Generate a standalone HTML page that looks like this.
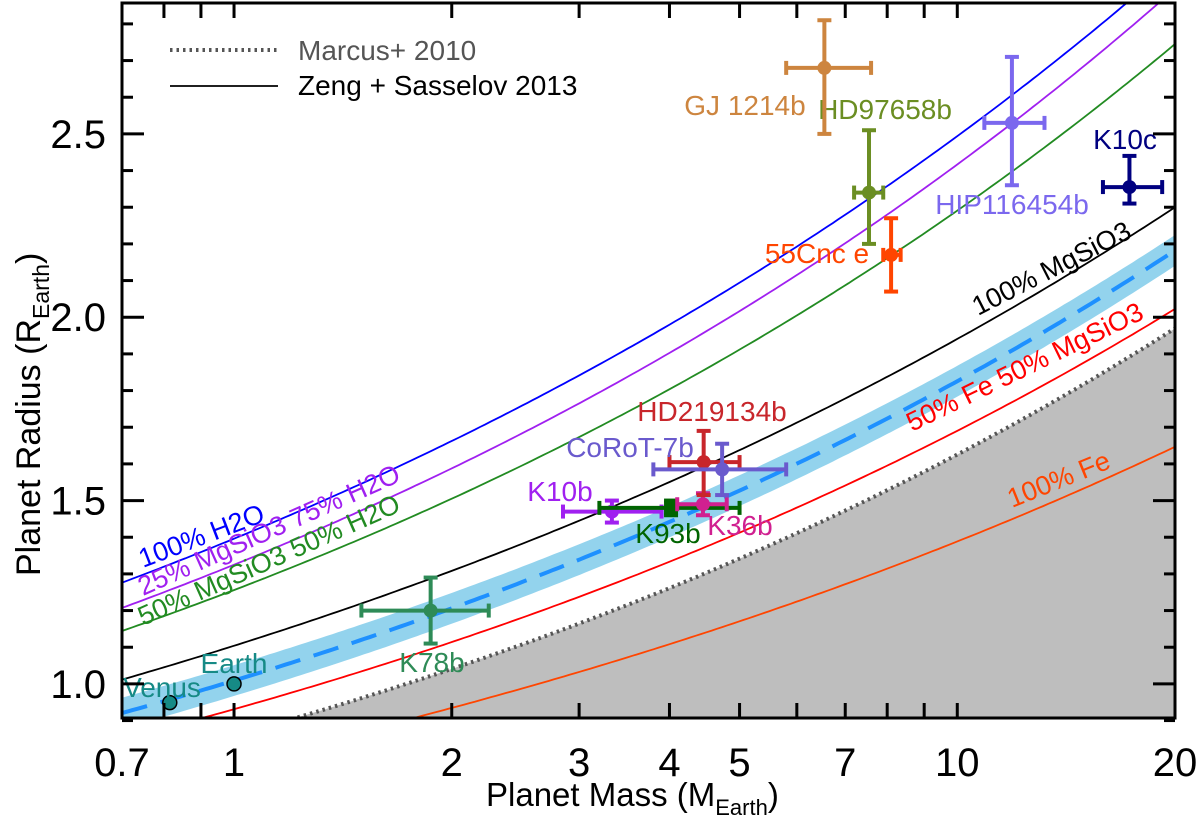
<!DOCTYPE html>
<html><head><meta charset="utf-8">
<style>
html,body{margin:0;padding:0;background:#fff;}
svg{display:block;font-family:"Liberation Sans",Arial,sans-serif;}
</style></head>
<body>
<svg id="chart" width="1200" height="819" viewBox="0 0 1200 819" xmlns="http://www.w3.org/2000/svg"></svg>
<script>
// ---- data ----
const planetNames = ["Venus","Earth","K78b","K10b","K93b","K36b","HD219134b","CoRoT-7b","55Cnc e","HD97658b","GJ 1214b","HIP116454b","K10c"];
const planetMass  = [0.815,1.0,1.87,3.33,4.02,4.45,4.46,4.73,8.1,7.55,6.55,11.9,17.3];
const massLo      = [0,0,1.50,2.85,3.20,4.10,4.00,3.80,7.90,7.20,5.80,10.9,15.9];
const massHi      = [0,0,2.25,3.90,5.00,4.80,5.00,5.80,8.35,7.90,7.60,13.2,19.2];
const planetRadius= [0.949,1.0,1.20,1.47,1.48,1.49,1.605,1.585,2.17,2.34,2.68,2.53,2.355];
const radLo       = [0,0,1.11,1.44,1.46,1.46,1.515,1.515,2.07,2.20,2.50,2.36,2.31];
const radHi       = [0,0,1.29,1.50,1.50,1.52,1.69,1.655,2.27,2.51,2.81,2.71,2.44];
const planetColors= ["#168a86","#168a86","#2e8b57","#a020f0","#006400","#d02090","#c8262b","#6a5acd","#ff4500","#6b8e23","#cd853f","#7b68ee","#000080"];
const labelX = [162,234,432,560,668,740,712,630,817,885,745,1012,1125];
const labelY = [697,673,672,501,543,535,421,457,263,119,115,214,149];
// model curves R = a * M^b
const curveNames = ["100% H2O","25% MgSiO3 75% H2O","50% MgSiO3 50% H2O","100% MgSiO3","50% Fe 50% MgSiO3","100% Fe","Marcus+ 2010"];
const curveA = [1.396,1.325,1.256,1.104,0.931,0.788,0.859];
const curveB = [0.252,0.261,0.261,0.245,0.259,0.246,0.277];
const curveColors = ["#0000ff","#a020f0","#228b22","#000000","#ff0000","#ff4500","#555555"];
const bandA = 1.009, bandB = 0.2575, bandHalf = 0.042;
const xTicks = [0.7,0.8,0.9,1,2,3,4,5,6,7,8,9,10,20];
const xLabels = [0.7,1,2,3,4,5,7,10,20];
const yTicks = [0.9,1.0,1.1,1.2,1.3,1.4,1.5,1.6,1.7,1.8,1.9,2.0,2.1,2.2,2.3,2.4,2.5,2.6,2.7,2.8];
const yLabels = ["1.0","1.5","2.0","2.5"];

// ---- axes ----
const L=122,R=1175,T=3,B=718, M0=0.7, M1=20, R0=0.907, R1=2.857;
const X = m => L + (Math.log10(m)-Math.log10(M0))/(Math.log10(M1)-Math.log10(M0))*(R-L);
const Y = r => B - (r-R0)/(R1-R0)*(B-T);
const NS="http://www.w3.org/2000/svg";
const svg=document.getElementById('chart');
function mk(tag,attrs,parent){const e=document.createElementNS(NS,tag);for(const k in attrs)e.setAttribute(k,attrs[k]);(parent||svg).appendChild(e);return e;}
const defs=mk('defs',{});
const cp=mk('clipPath',{id:'clip'},defs);mk('rect',{x:L,y:T,width:R-L,height:B-T},cp);
const plot=mk('g',{'clip-path':'url(#clip)'});



function curvePts(a,b,off){const p=[];for(let i=0;i<=200;i++){const m=M0*Math.pow(M1/M0,i/200);p.push([X(m),Y(a*Math.pow(m,b)+(off||0))]);}return p;}
const path = pts => pts.map((p,i)=>(i?'L':'M')+p[0].toFixed(1)+' '+p[1].toFixed(1)).join(' ');

const mp=curvePts(curveA[6],curveB[6]);
const fill=mk('path',{d:path(mp)+` L ${R} ${B+10} L ${L} ${B+10} Z`,fill:'#bebebe'},plot);


const up=curvePts(bandA,bandB,bandHalf), dn=curvePts(bandA,bandB,-bandHalf).reverse();
const band=mk('path',{d:path(up)+' '+path(dn).replace('M','L')+' Z',fill:'#87ceeb',opacity:0.9},plot);


const bl=mk('path',{d:path(curvePts(bandA,bandB)),fill:'none',stroke:'#1e90ff','stroke-width':4,'stroke-dasharray':'26 14'},plot);


for(let i=0;i<curveNames.length;i++){
  const isM=i===6;
  const c=mk('path',{d:path(curvePts(curveA[i],curveB[i])),fill:'none',stroke:curveColors[i],'stroke-width':isM?4:1.8,'stroke-dasharray':isM?'2.5 4':'none'},plot);
  
  
}
const clText=["100% H2O","25% MgSiO3 75% H2O","50% MgSiO3 50% H2O","100% MgSiO3","50% Fe 50% MgSiO3","100% Fe"];
const clX=[143,143,143,978,912,1012];
const clY=[568,596,626,316,432,508];
const clAng=[-21,-24,-24,-27,-26,-22];
for(let i=0;i<clText.length;i++){
  const t=mk('text',{x:clX[i],y:clY[i],fill:curveColors[i],'font-size':27,transform:`rotate(${clAng[i]} ${clX[i]} ${clY[i]})`},plot);
  t.textContent=clText[i];
  
  
}
for(let i=0;i<planetNames.length;i++){
  const g=mk('g',{},plot);
  
  
  const col=planetColors[i], cx=X(planetMass[i]), cy=Y(planetRadius[i]);
  if(massLo[i]>0){
    const x1=X(massLo[i]),x2=X(massHi[i]),y1=Y(radHi[i]),y2=Y(radLo[i]);
    mk('line',{x1:x1,y1:cy,x2:x2,y2:cy,stroke:col,'stroke-width':4},g);
    mk('line',{x1:x1,y1:cy-7,x2:x1,y2:cy+7,stroke:col,'stroke-width':4},g);
    mk('line',{x1:x2,y1:cy-7,x2:x2,y2:cy+7,stroke:col,'stroke-width':4},g);
    mk('line',{x1:cx,y1:y1,x2:cx,y2:y2,stroke:col,'stroke-width':4},g);
    mk('line',{x1:cx-7,y1:y1,x2:cx+7,y2:y1,stroke:col,'stroke-width':4},g);
    mk('line',{x1:cx-7,y1:y2,x2:cx+7,y2:y2,stroke:col,'stroke-width':4},g);
    mk(planetNames[i]==="K93b"?'rect':'circle',planetNames[i]==="K93b"?{x:cx-7,y:cy-7,width:14,height:14,fill:col}:{cx:cx,cy:cy,r:7,fill:col},g);
  } else {
    mk('circle',{cx:cx,cy:cy,r:7,fill:col,stroke:'#000','stroke-width':1.5},g);
  }
  const t=mk('text',{x:labelX[i],y:labelY[i],fill:col,'font-size':28,'text-anchor':'middle'},g);
  t.textContent=planetNames[i];
}
const ax=mk('g',{});


mk('rect',{x:L,y:T,width:R-L,height:B-T,fill:'none',stroke:'#000','stroke-width':3},ax);
for(const m of xTicks){const x=X(m);
  mk('line',{x1:x,y1:B,x2:x,y2:B-15,stroke:'#000','stroke-width':3},ax);
  mk('line',{x1:x,y1:T,x2:x,y2:T+15,stroke:'#000','stroke-width':3},ax);}
for(const m of xLabels){const t=mk('text',{x:X(m),y:776,'font-size':40,'text-anchor':'middle'},ax);t.textContent=String(m);
  
  }
for(const r of yTicks){const y=Y(r);const major=Math.abs(r*2-Math.round(r*2))<1e-6;const len=major?22:11;
  mk('line',{x1:L,y1:y,x2:L+len,y2:y,stroke:'#000','stroke-width':3},ax);
  mk('line',{x1:R,y1:y,x2:R-len,y2:y,stroke:'#000','stroke-width':3},ax);}
for(const s of yLabels){const t=mk('text',{x:106,y:Y(parseFloat(s))+14,'font-size':40,'text-anchor':'end'},ax);t.textContent=s;
  
  }
</script>
<svg style="position:absolute;left:0;top:0" width="1200" height="819" font-family="Liberation Sans, Arial, sans-serif">
  <text x="486" y="806" font-size="33">Planet Mass (M<tspan font-size="22" dy="9">Earth</tspan><tspan dy="-9">)</tspan></text>
  <text transform="translate(40 576) rotate(-90)" font-size="34">Planet Radius (R<tspan font-size="23" dy="9">Earth</tspan><tspan dy="-9">)</tspan></text>
  <g>
    <line x1="170" y1="50" x2="278" y2="50" stroke="#555" stroke-width="4" stroke-dasharray="2.5 4"/>
    <text x="298" y="60" font-size="28" fill="#555">Marcus+ 2010</text>
    <line x1="170" y1="86" x2="278" y2="86" stroke="#000" stroke-width="1.8"/>
    <text x="298" y="95" font-size="28" fill="#000">Zeng + Sasselov 2013</text>
  </g>
</svg>
</body></html>
